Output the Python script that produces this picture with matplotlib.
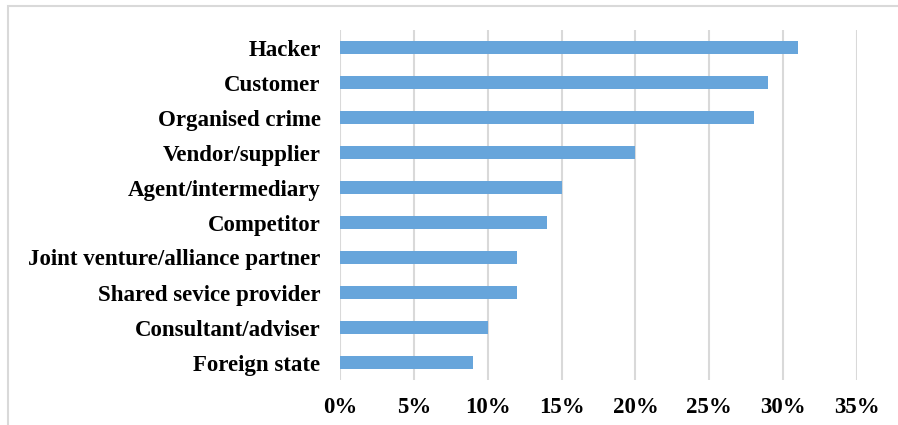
import matplotlib.pyplot as plt
from matplotlib.patches import Rectangle
import numpy as np

# Categories (top to bottom) and their shares in percent
categories = ["Hacker", "Customer", "Organised crime", "Vendor/supplier",
              "Agent/intermediary", "Competitor", "Joint venture/alliance partner",
              "Shared sevice provider", "Consultant/adviser", "Foreign state"]
values = [31, 29, 28, 20, 15, 14, 12, 12, 10, 9]
xticks = [0, 5, 10, 15, 20, 25, 30, 35]

bar_color = "#67a5db"
grid_color = "#d9d9d9"

plt.rcParams['font.family'] = ['Liberation Serif', 'DejaVu Serif']

fig = plt.figure(figsize=(8.98, 4.25), dpi=100)
ax = fig.add_axes([340 / 898, 45 / 425, 517 / 898, 350 / 425])

y = np.arange(len(categories))
ax.barh(y, values, height=0.37, color=bar_color, zorder=3)
ax.set_ylim(len(categories) - 0.5, -0.5)
ax.set_xlim(0, 35)

ax.set_yticks(y)
ax.set_yticklabels(categories, fontsize=16.5, fontweight='bold')
ax.set_xticks(xticks)
ax.set_xticklabels([f"{t}%" for t in xticks], fontsize=16.5, fontweight='bold')
ax.tick_params(axis='both', length=0)
ax.tick_params(axis='y', pad=14)
ax.tick_params(axis='x', pad=12)

for s in ax.spines.values():
    s.set_visible(False)
ax.grid(axis='x', color=grid_color, linewidth=1.5, zorder=0)
ax.set_axisbelow(True)

# outer chart border (partly cut off by the image edge)
border = Rectangle((8 / 898, -0.1), 1.2, (425 - 6) / 425 + 0.1,
                   transform=fig.transFigure, fill=False,
                   edgecolor=grid_color, linewidth=1.5)
fig.patches.append(border)

fig.savefig("out.png", dpi=100)
